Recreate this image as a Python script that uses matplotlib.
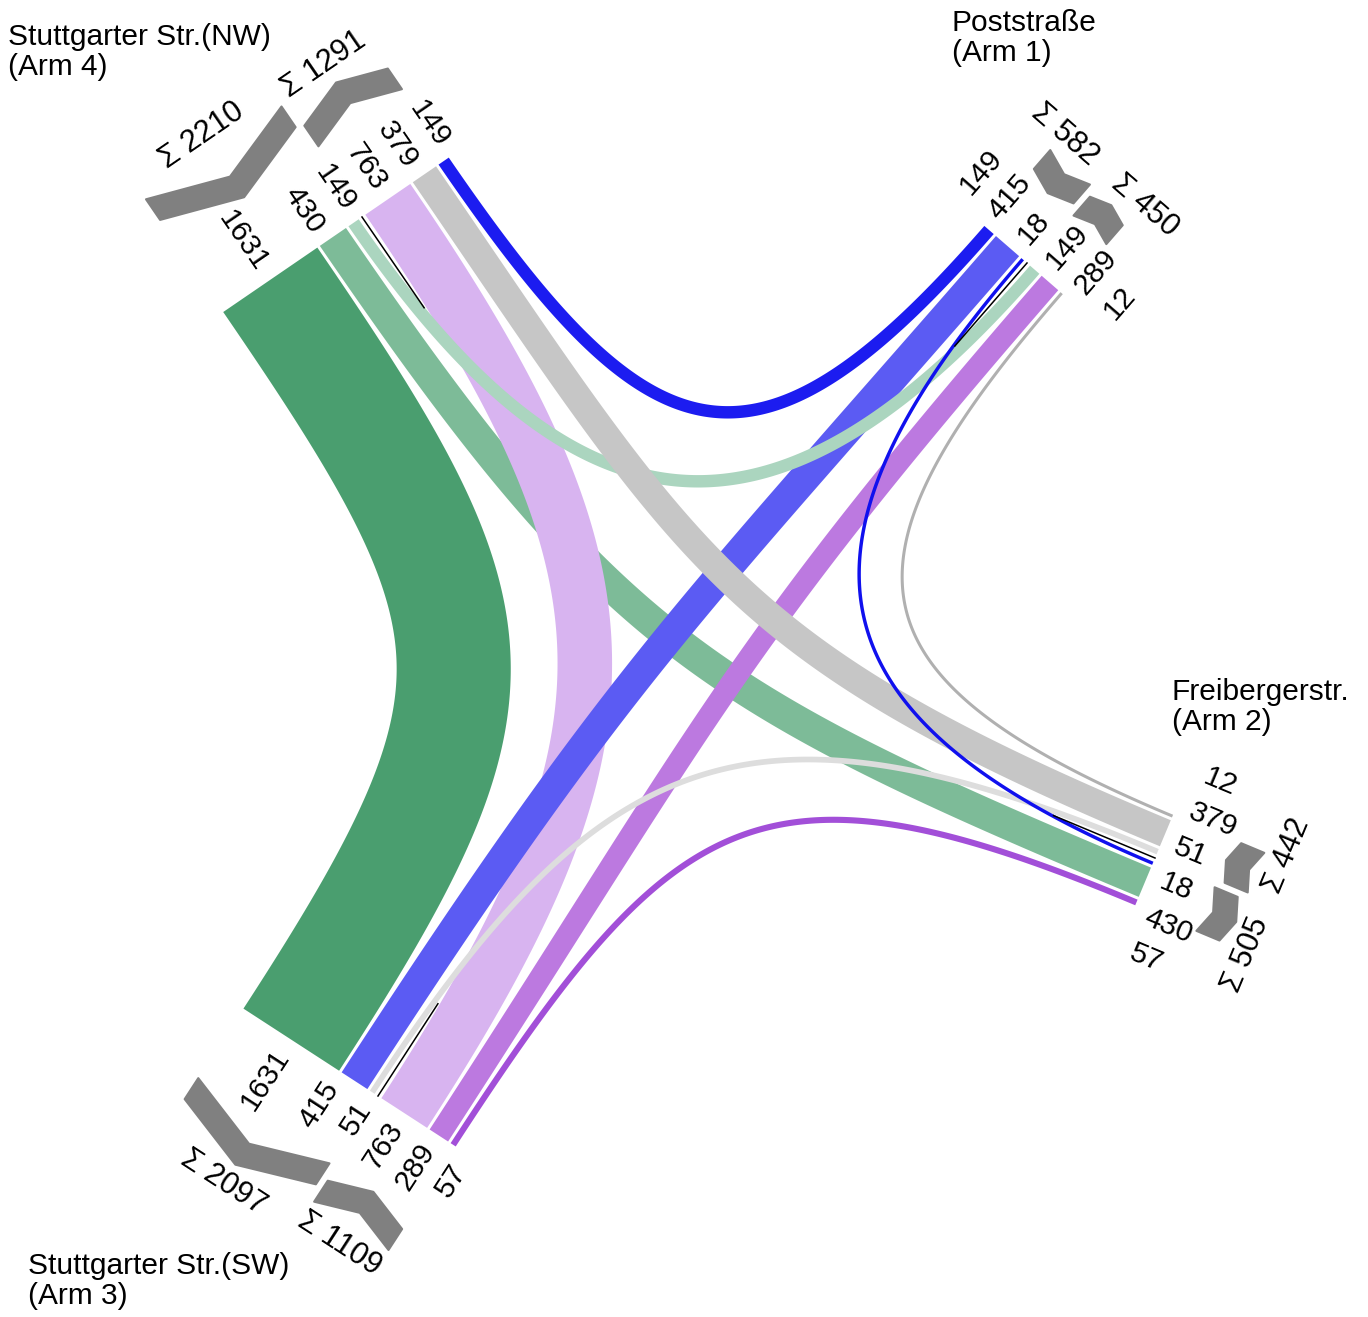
import numpy as np
import matplotlib
matplotlib.use("Agg")
import matplotlib.pyplot as plt
from matplotlib.patches import Polygon

# turning volumes at the junction (origin arm -> destination arm)
arm_ids = [1, 2, 3, 4]
arm_titles = ["Poststraße\n(Arm 1)", "Freibergerstr.\n(Arm 2)",
              "Stuttgarter Str.(SW)\n(Arm 3)", "Stuttgarter Str.(NW)\n(Arm 4)"]
flow_from = [4, 4, 4, 1, 1, 1, 2, 2, 2, 3, 3, 3]
flow_to = [3, 2, 1, 4, 3, 2, 1, 4, 3, 2, 1, 4]
flow_vol = [1631, 430, 149, 149, 415, 18, 12, 379, 51, 57, 289, 763]

# styling
colors = {(4, 3): "#4a9e6f", (4, 2): "#7dbb98", (4, 1): "#abd5bf",
          (1, 4): "#1c1cf0", (1, 3): "#5b5bf3", (1, 2): "#1010ee",
          (2, 1): "#b0b0b0", (2, 4): "#c6c6c6", (2, 3): "#dddddd",
          (3, 4): "#d8b4f0", (3, 1): "#bc79e0", (3, 2): "#a24fd8"}
draw_order = [(4, 3), (4, 2), (3, 4), (1, 3), (3, 1), (4, 1), (2, 4),
              (1, 4), (2, 3), (3, 2), (1, 2), (2, 1)]

W, H = 1368, 1317
FS = 21.5
FS_SUM = 22
FS_PX = FS * 100 / 72
DIGIT = 0.556 * FS_PX
W0, SCALE = 2.2, 0.0686          # ribbon width = W0 + SCALE * volume (px)
GAP, MID_GAP = 3.0, 8.0
K0, K1 = 225, 0.25               # bezier handle length
LAB_OFF, LAB_MIN = 14, 38

# layout of the arms: separator point and clockwise direction of the slot line
arm_sep = {1: (1027, 263), 2: (1155, 858), 3: (378, 1096), 4: (362, 217)}
arm_dir = {1: 41.0, 2: 112.7, 3: 213.0, 4: -34.4}
title_pos = {1: (952, 9), 2: (1172, 678), 3: (28, 1252), 4: (8, 23)}

plt.rcParams['font.family'] = ['Liberation Sans', 'DejaVu Sans']

vol = {(a, b): v for a, b, v in zip(flow_from, flow_to, flow_vol)}
SEP = {a: np.array(p, float) for a, p in arm_sep.items()}
U = {a: np.array([np.cos(np.radians(d)), np.sin(np.radians(d))]) for a, d in arm_dir.items()}
N = {a: np.array([-U[a][1], U[a][0]]) for a in arm_ids}


def width(v):
    return W0 + SCALE * v


def prev(a, k):
    return (a - 1 - k) % 4 + 1


def pt(a, u, n):
    return SEP[a] + u * U[a] + n * N[a]


def screen_angle(v):
    return np.degrees(np.arctan2(-v[1], v[0]))


def spread(pos, mind):
    pos = list(pos)
    order = np.argsort(pos)
    for _ in range(300):
        moved = False
        for i, j in zip(order[:-1], order[1:]):
            d = pos[j] - pos[i]
            need = mind[i][j] if isinstance(mind, list) else mind
            if d < need - 1e-6:
                s = (need - d) / 2
                pos[i] -= s
                pos[j] += s
                moved = True
        if not moved:
            break
    return pos


# slots on each arm
slot, groups = {}, {}
for a in arm_ids:
    outs = [(a, prev(a, k)) for k in (1, 2, 3)]
    ins = [(prev(a, k), a) for k in (1, 2, 3)]
    tot = sum(width(vol[f]) for f in outs) + 2 * GAP
    u = -MID_GAP / 2 - tot
    groups[(a, "out")] = (u, -MID_GAP / 2, outs)
    for f in outs:
        w = width(vol[f])
        slot[(f, a)] = (u, u + w)
        u += w + GAP
    u = MID_GAP / 2
    for f in ins:
        w = width(vol[f])
        slot[(f, a)] = (u, u + w)
        u += w + GAP
    groups[(a, "in")] = (MID_GAP / 2, u - GAP, ins)

fig = plt.figure(figsize=(W / 100, H / 100), dpi=100)
ax = fig.add_axes([0, 0, 1, 1])
ax.set_xlim(0, W)
ax.set_ylim(H, 0)
ax.axis("off")

# ribbons
t = np.linspace(0, 1, 400)[:, None]
for z, f in enumerate(draw_order):
    a, b = f
    c0 = sum(slot[(f, a)]) / 2
    c1 = sum(slot[(f, b)]) / 2
    p0, p3 = pt(a, c0, 0), pt(b, c1, 0)
    k = K0 + K1 * np.linalg.norm(p3 - p0)
    p1, p2 = p0 + k * N[a], p3 + k * N[b]
    C = (1 - t) ** 3 * p0 + 3 * (1 - t) ** 2 * t * p1 + 3 * (1 - t) * t ** 2 * p2 + t ** 3 * p3
    D = 3 * (1 - t) ** 2 * (p1 - p0) + 6 * (1 - t) * t * (p2 - p1) + 3 * t ** 2 * (p3 - p2)
    D = D / np.linalg.norm(D, axis=1)[:, None]
    P = np.column_stack([-D[:, 1], D[:, 0]])
    hw = width(vol[f]) / 2
    poly = np.vstack([C + hw * P, (C - hw * P)[::-1]])
    ax.add_patch(Polygon(poly, closed=True, facecolor=colors[f], edgecolor="none", zorder=2 + z * 0.01))

for a in arm_ids:
    # separator between outgoing and incoming streams
    s0, s1 = pt(a, 0, 0), pt(a, 0, 110)
    ax.plot([s0[0], s1[0]], [s0[1], s1[1]], color="black", lw=1.1, zorder=3)

    # volume labels
    items = [(sum(slot[(f, a)]) / 2, vol[f]) for f in
             groups[(a, "out")][2] + groups[(a, "in")][2]]
    upos = spread([c for c, _ in items], LAB_MIN)
    rot = screen_angle(-N[a])
    ha = "left"
    if rot > 90 or rot < -90:
        rot = rot - 180 if rot > 0 else rot + 180
        ha = "right"
    for u, (_, v) in zip(upos, items):
        p = pt(a, u, -LAB_OFF)
        ax.text(p[0], p[1], str(v), fontsize=FS, rotation=rot, rotation_mode="anchor",
                ha=ha, va="center", zorder=5)

    # chevrons and sums
    maxlen = max(len(str(v)) for _, v in items) * DIGIT
    n_near = -(LAB_OFF + maxlen + 15)
    srot = screen_angle(U[a])
    if srot > 90:
        srot -= 180
    elif srot < -90:
        srot += 180
    sums, centers, lens = [], [], []
    for kind in ("out", "in"):
        lo, hi, fl = groups[(a, kind)]
        span = hi - lo
        depth = 0.175 * span
        if kind == "out":
            nv, ne = n_near, n_near - depth
        else:
            ne, nv = n_near, n_near - depth
        s = 12.5
        pts_ln = [(lo, ne + s), ((lo + hi) / 2, nv + s), (hi, ne + s),
                  (hi, ne - s), ((lo + hi) / 2, nv - s), (lo, ne - s)]
        xy = np.array([pt(a, u, n) for u, n in pts_ln])
        ax.add_patch(Polygon(xy, closed=True, facecolor="#808080", edgecolor="#808080",
                             lw=1.5, joinstyle="round", zorder=4))
        total = sum(vol[f] for f in fl)
        txt = "Σ %d" % total
        sums.append((txt, min(ne, nv) - 34))
        centers.append((lo + hi) / 2)
        lens.append((0.59 + 0.278 + 0.556 * len(str(total))) * FS_SUM * 100 / 72)
    need = [[0, (lens[0] + lens[1]) / 2 + 30], [(lens[0] + lens[1]) / 2 + 30, 0]]
    cpos = spread(centers, need)
    for (txt, n), u in zip(sums, cpos):
        p = pt(a, u, n)
        ax.text(p[0], p[1], txt, fontsize=FS_SUM, rotation=srot, rotation_mode="anchor",
                ha="center", va="center", zorder=5)

    tx, ty = title_pos[a]
    ax.text(tx, ty, arm_titles[a - 1], fontsize=FS, ha="left", va="top",
            linespacing=1.1, zorder=5)

fig.savefig("out.png", dpi=100)
